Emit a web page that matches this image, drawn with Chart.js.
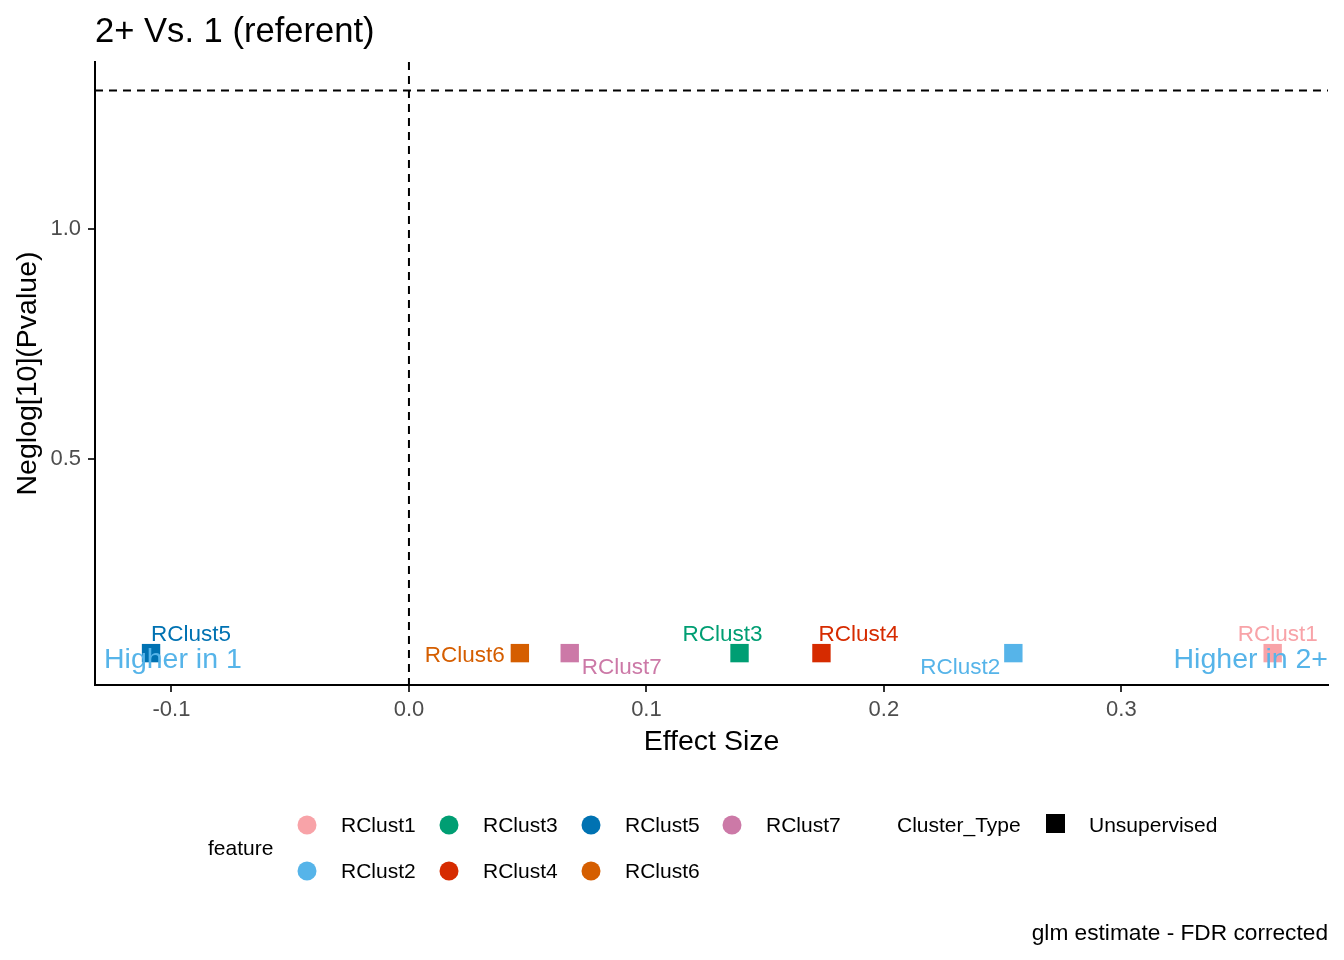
<!DOCTYPE html>
<html>
<head>
<meta charset="utf-8">
<title>2+ Vs. 1 (referent)</title>
<script src="https://cdn.jsdelivr.net/npm/chart.js@4.4.1/dist/chart.umd.min.js"></script>
<style>
  html, body { margin: 0; padding: 0; background: #fff; }
  #wrap { width: 1344px; height: 960px; }
</style>
</head>
<body>
<div id="wrap"><canvas id="volcano" width="1344" height="960"></canvas></div>
<script>
// ---------------- DATA ----------------
const features = ["RClust1", "RClust2", "RClust3", "RClust4", "RClust5", "RClust6", "RClust7"];
const effectSize = [0.3637, 0.2545, 0.1392, 0.1737, -0.1086, 0.0467, 0.0677];
const negLogP = [0.078, 0.078, 0.078, 0.078, 0.078, 0.078, 0.078];
const featureColors = ["#F8A3A8", "#56B4E9", "#009E73", "#D62B00", "#0072B2", "#D55E00", "#CC79A7"];

const xTicks = [-0.1, 0.0, 0.1, 0.2, 0.3];
const yTicks = [0.5, 1.0];
const sigLine = -Math.log10(0.05);   // horizontal dashed line
const zeroLine = 0;                  // vertical dashed line

// repel-ish label offsets (px from point centre)
const labelOffsets = [[5, -18], [-53, 15], [-17, -18], [37, -18], [40, -18], [-55, 3], [52, 15]];

const FONT = "'Liberation Sans', Arial, sans-serif";

// ---------------- PLUGIN: annotations, titles, legend ----------------
const decorations = {
    id: "decorations",
    beforeDatasetsDraw(chart) {
        const { ctx, chartArea: a, scales: { x, y } } = chart;
        ctx.save();
        ctx.strokeStyle = "#000";
        ctx.lineWidth = 2;
        ctx.setLineDash([8, 6]);
        const yy = y.getPixelForValue(sigLine);
        ctx.beginPath(); ctx.moveTo(a.left, yy); ctx.lineTo(a.right, yy); ctx.stroke();
        const xx = x.getPixelForValue(zeroLine);
        ctx.beginPath(); ctx.moveTo(xx, a.top); ctx.lineTo(xx, a.bottom); ctx.stroke();
        ctx.restore();
    },
    afterDatasetsDraw(chart) {
        const { ctx, chartArea: a, scales: { x, y } } = chart;
        ctx.save();
        ctx.font = `22.5px ${FONT}`;
        ctx.textAlign = "center";
        ctx.textBaseline = "middle";
        features.forEach((f, i) => {
            const px = x.getPixelForValue(effectSize[i]);
            const py = y.getPixelForValue(negLogP[i]);
            ctx.fillStyle = featureColors[i];
            ctx.fillText(f, px + labelOffsets[i][0], py + labelOffsets[i][1]);
        });

        // direction annotations
        ctx.font = `28.5px ${FONT}`;
        ctx.fillStyle = "#56B4E9";
        ctx.textAlign = "left";
        ctx.fillText("Higher in 1", a.left + 9, 660);
        ctx.textAlign = "right";
        ctx.fillText("Higher in 2+", a.right, 660);
        ctx.restore();
    },
    afterDraw(chart) {
        const { ctx, chartArea: a } = chart;
        ctx.save();
        ctx.fillStyle = "#000";

        // title
        ctx.font = `34.6px ${FONT}`;
        ctx.textAlign = "left";
        ctx.textBaseline = "alphabetic";
        ctx.fillText("2+ Vs. 1 (referent)", a.left, 42);

        // axis titles
        ctx.font = `28.5px ${FONT}`;
        ctx.textAlign = "center";
        ctx.textBaseline = "middle";
        ctx.fillText("Effect Size", (a.left + a.right) / 2, 742);
        ctx.save();
        ctx.translate(28, (a.top + a.bottom) / 2);
        ctx.rotate(-Math.PI / 2);
        ctx.fillText("Neglog[10](Pvalue)", 0, 0);
        ctx.restore();

        // legend: feature
        ctx.font = `21px ${FONT}`;
        ctx.textAlign = "left";
        ctx.fillText("feature", 208, 849);
        const colX = [307, 449, 591, 732];
        const rowY = [825, 871];
        features.forEach((f, i) => {
            const cx = colX[Math.floor(i / 2)];
            const cy = rowY[i % 2];
            ctx.fillStyle = featureColors[i];
            ctx.beginPath();
            ctx.arc(cx, cy, 9.5, 0, Math.PI * 2);
            ctx.fill();
            ctx.fillStyle = "#000";
            ctx.fillText(f, cx + 34, cy + 1);
        });

        // legend: Cluster_Type
        ctx.fillText("Cluster_Type", 897, 826);
        ctx.fillRect(1046, 814, 19, 19);
        ctx.fillText("Unsupervised", 1089, 826);

        // caption
        ctx.font = `22.7px ${FONT}`;
        ctx.textAlign = "right";
        ctx.fillText("glm estimate - FDR corrected", a.right, 934);
        ctx.restore();
    }
};

// ---------------- CHART ----------------
const datasets = features.map((f, i) => ({
    label: f,
    data: [{ x: effectSize[i], y: negLogP[i] }],
    backgroundColor: featureColors[i],
    borderWidth: 0,
    pointStyle: "rect",
    pointRadius: 13,
    pointHoverRadius: 13
}));

new Chart(document.getElementById("volcano").getContext("2d"), {
    type: "scatter",
    data: { datasets },
    options: {
        responsive: false,
        animation: false,
        events: [],
        layout: { padding: { left: 0, right: 16, top: 62, bottom: 215 } },
        plugins: {
            legend: { display: false },
            title: { display: false },
            tooltip: { enabled: false }
        },
        scales: {
            x: {
                type: "linear",
                min: -0.1322,
                max: 0.387,
                afterBuildTicks: s => { s.ticks = xTicks.map(v => ({ value: v })); },
                afterFit: s => { s.height = 60; },
                ticks: {
                    color: "#4D4D4D",
                    font: { family: FONT, size: 22 },
                    padding: 5,
                    callback: v => v.toFixed(1)
                },
                grid: { display: true, drawOnChartArea: false, drawTicks: true, tickLength: 7, color: "#333", lineWidth: 2 },
                border: { display: true, color: "#000", width: 2 }
            },
            y: {
                type: "linear",
                min: 0.0087,
                max: 1.363,
                afterBuildTicks: s => { s.ticks = yTicks.map(v => ({ value: v })); },
                afterFit: s => { s.width = 95; },
                ticks: {
                    color: "#4D4D4D",
                    font: { family: FONT, size: 22 },
                    padding: 7,
                    callback: v => v.toFixed(1)
                },
                grid: { display: true, drawOnChartArea: false, drawTicks: true, tickLength: 7, color: "#333", lineWidth: 2 },
                border: { display: true, color: "#000", width: 2 }
            }
        }
    },
    plugins: [decorations]
});
</script>
</body>
</html>
